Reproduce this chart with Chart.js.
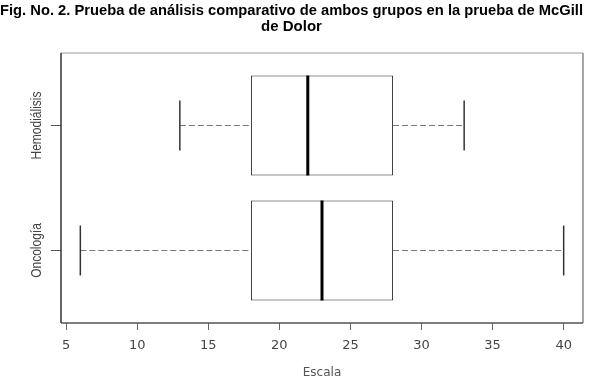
<!DOCTYPE html>
<html>
<head>
<meta charset="utf-8">
<script src="https://cdn.jsdelivr.net/npm/chart.js@4.4.1/dist/chart.umd.min.js"></script>
<style>
  html, body { margin: 0; padding: 0; background: #fff; }
  #wrap { width: 615px; height: 388px; }
</style>
</head>
<body>
<div id="wrap"><canvas id="boxChart" width="615" height="388"></canvas></div>
<script>
// datos (escala McGill)
const groups = ['Oncología', 'Hemodiálisis'];
const positions = [1, 2];
const mins = [6, 13];
const q1s = [18, 18];
const medians = [23, 22];
const q3s = [28, 28];
const maxs = [40, 33];
const xTicks = [5, 10, 15, 20, 25, 30, 35, 40];

const titleFont = '"Liberation Sans", Arial, sans-serif';
const axisFont = '"DejaVu Sans", sans-serif';

// bigotes, medianas, marco y etiquetas del eje y
const boxplotExtras = {
  id: 'boxplotExtras',
  beforeDatasetsDraw(chart) {
    const { ctx, scales: { x, y } } = chart;
    ctx.save();
    positions.forEach((p, i) => {
      const py = Math.round(y.getPixelForValue(p)) + 0.5;
      const capTop = y.getPixelForValue(p + 0.2);
      const capBot = y.getPixelForValue(p - 0.2);
      ctx.strokeStyle = '#777';
      ctx.lineWidth = 1.2;
      ctx.setLineDash([6, 3]);
      ctx.beginPath();
      ctx.moveTo(x.getPixelForValue(mins[i]), py);
      ctx.lineTo(x.getPixelForValue(q1s[i]), py);
      ctx.moveTo(x.getPixelForValue(q3s[i]), py);
      ctx.lineTo(x.getPixelForValue(maxs[i]), py);
      ctx.stroke();
      ctx.setLineDash([]);
      ctx.strokeStyle = '#333';
      ctx.lineWidth = 1.5;
      [mins[i], maxs[i]].forEach((v) => {
        const px = x.getPixelForValue(v);
        ctx.beginPath();
        ctx.moveTo(px, capTop);
        ctx.lineTo(px, capBot);
        ctx.stroke();
      });
    });
    ctx.restore();
  },
  afterDatasetsDraw(chart) {
    const { ctx, chartArea: a, scales: { x, y } } = chart;
    ctx.save();
    // medianas
    ctx.strokeStyle = '#000';
    ctx.lineWidth = 3;
    positions.forEach((p, i) => {
      const px = x.getPixelForValue(medians[i]);
      ctx.beginPath();
      ctx.moveTo(px, y.getPixelForValue(p + 0.4));
      ctx.lineTo(px, y.getPixelForValue(p - 0.4));
      ctx.stroke();
    });
    // marco
    ctx.lineWidth = 1.5;
    ctx.strokeStyle = '#bbb';
    ctx.beginPath(); ctx.moveTo(a.left, a.top); ctx.lineTo(a.right, a.top); ctx.stroke();
    ctx.strokeStyle = '#888';
    ctx.beginPath(); ctx.moveTo(a.right, a.top); ctx.lineTo(a.right, a.bottom); ctx.stroke();
    ctx.strokeStyle = '#333';
    ctx.beginPath(); ctx.moveTo(a.left, a.top); ctx.lineTo(a.left, a.bottom); ctx.stroke();
    ctx.strokeStyle = '#555';
    ctx.beginPath(); ctx.moveTo(a.left, a.bottom); ctx.lineTo(a.right, a.bottom); ctx.stroke();
    // etiquetas rotadas del eje y (la imagen original esta estirada en horizontal)
    ctx.fillStyle = '#444';
    ctx.font = '12px ' + titleFont;
    ctx.textAlign = 'center';
    ctx.textBaseline = 'middle';
    positions.forEach((p, i) => {
      ctx.save();
      ctx.translate(37, y.getPixelForValue(p));
      ctx.scale(1.2, 1);
      ctx.rotate(-Math.PI / 2);
      ctx.fillText(groups[i], 0, 0);
      ctx.restore();
    });
    ctx.restore();
  }
};

new Chart(document.getElementById('boxChart'), {
  type: 'bar',
  data: {
    datasets: [{
      label: 'Escala',
      data: positions.map((p, i) => ({ y: p, x: [q1s[i], q3s[i]] })),
      backgroundColor: '#fff',
      borderColor: '#222',
      borderWidth: 1,
      borderSkipped: false,
      categoryPercentage: 0.8,
      barPercentage: 1
    }]
  },
  options: {
    indexAxis: 'y',
    responsive: false,
    animation: false,
    layout: { padding: { left: 0, right: 32, top: 0, bottom: 0 } },
    plugins: {
      legend: { display: false },
      tooltip: { enabled: false },
      title: {
        display: true,
        text: ['Fig. No. 2. Prueba de análisis comparativo de ambos grupos en la prueba de McGill', 'de Dolor'],
        color: '#000',
        font: { family: titleFont, size: 15, weight: 'bold', lineHeight: 15.5 / 15 },
        padding: { top: 3.25, bottom: 18.75 }
      }
    },
    scales: {
      x: {
        type: 'linear',
        min: 4.64,
        max: 41.36,
        offset: false,
        afterBuildTicks: (scale) => { scale.ticks = xTicks.map((v) => ({ value: v })); },
        afterFit: (scale) => { scale.height = 65; },
        border: { display: false },
        grid: { offset: false, drawOnChartArea: false, drawTicks: true, tickLength: 7, color: '#666' },
        ticks: { color: '#444', padding: 8, font: { family: axisFont, size: 13 }, maxRotation: 0 },
        title: { display: true, text: 'Escala', color: '#555', font: { family: axisFont, size: 12 }, padding: { top: 0, bottom: 8 } }
      },
      y: {
        type: 'linear',
        min: 0.42,
        max: 2.58,
        offset: false,
        afterBuildTicks: (scale) => { scale.ticks = positions.map((v) => ({ value: v })); },
        afterFit: (scale) => { scale.width = 61; },
        border: { display: false },
        grid: { offset: false, drawOnChartArea: false, drawTicks: true, tickLength: 10, color: '#555' },
        ticks: { display: false }
      }
    }
  },
  plugins: [boxplotExtras]
});
</script>
</body>
</html>
